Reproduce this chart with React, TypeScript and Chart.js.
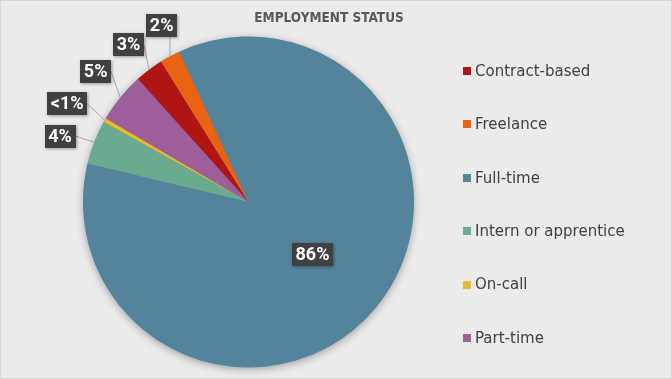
import React, { useEffect, useRef } from "react";
import { Chart, registerables } from "chart.js";

Chart.register(...registerables);

const chartTitle = "EMPLOYMENT STATUS";
const categories = [
  "Contract-based",
  "Freelance",
  "Full-time",
  "Intern or apprentice",
  "On-call",
  "Part-time",
];
const shares = [2.8, 2.0, 85.6, 4.3, 0.4, 4.9];
const sliceColors = ["#B01513", "#EA6312", "#53849B", "#6AAB90", "#E8B92A", "#9E5E9B"];
const firstSliceAngle = -42;

const W = 672;
const H = 379;
const BG = "#EBEBEB";
const LABEL_FONT = "bold 18px Roboto, 'DejaVu Sans', sans-serif";
const LEGEND_FONT = "15px 'DejaVu Sans', sans-serif";
const TITLE_FONT = "bold 13.5px 'DejaVu Sans Condensed', 'DejaVu Sans', sans-serif";

function labelText(v: number) {
  return v < 1 ? "<1%" : Math.round(v) + "%";
}

const backgroundPlugin = {
  id: "bgPlugin",
  beforeDraw(chart: any) {
    const ctx = chart.ctx;
    ctx.save();
    ctx.fillStyle = BG;
    ctx.fillRect(0, 0, chart.width, chart.height);
    ctx.strokeStyle = "#D6D6D6";
    ctx.lineWidth = 1;
    ctx.strokeRect(0.5, 0.5, chart.width - 1, chart.height - 1);
    ctx.restore();
  },
  beforeDatasetsDraw(chart: any) {
    const meta = chart.getDatasetMeta(0);
    if (!meta.data.length) return;
    const p = meta.data[0].getProps(["x", "y", "outerRadius"], true);
    const ctx = chart.ctx;
    ctx.save();
    ctx.shadowColor = "rgba(0,0,0,0.35)";
    ctx.shadowBlur = 9;
    ctx.shadowOffsetX = 0;
    ctx.shadowOffsetY = 2;
    ctx.fillStyle = sliceColors[2];
    ctx.beginPath();
    ctx.arc(p.x, p.y, p.outerRadius - 0.5, 0, Math.PI * 2);
    ctx.fill();
    ctx.restore();
  },
};

const decorPlugin = {
  id: "decorPlugin",
  afterDatasetsDraw(chart: any) {
    const ctx = chart.ctx;
    const meta = chart.getDatasetMeta(0);
    ctx.save();
    ctx.font = LABEL_FONT;
    const items = meta.data.map((arc: any, i: number) => {
      const p = arc.getProps(["x", "y", "startAngle", "endAngle", "outerRadius"], true);
      const raw = (p.startAngle + p.endAngle) / 2;
      const mid = Math.atan2(Math.sin(raw), Math.cos(raw));
      const span = p.endAngle - p.startAngle;
      const text = labelText(shares[i]);
      const w = ctx.measureText(text).width + 7;
      const h = 23;
      return { i, cx: p.x, cy: p.y, R: p.outerRadius, mid, ang: mid, span, text, w, h, inside: span > Math.PI / 3, bx: 0, by: 0 };
    });

    const gap = 18;
    const place = (it: any) => {
      if (it.inside) {
        it.bx = it.cx + it.R * 0.5 * Math.cos(it.mid);
        it.by = it.cy + it.R * 0.5 * Math.sin(it.mid);
        return;
      }
      const c = Math.cos(it.ang);
      const s = Math.sin(it.ang);
      const hw = it.w / 2;
      const hh = it.h / 2;
      const ext = Math.min(Math.abs(c) > 1e-6 ? hw / Math.abs(c) : 1e9, Math.abs(s) > 1e-6 ? hh / Math.abs(s) : 1e9);
      const d = it.R + gap + ext;
      it.bx = it.cx + d * c;
      it.by = it.cy + d * s;
    };
    items.forEach(place);
    const outs = items.filter((it: any) => !it.inside).sort((a: any, b: any) => a.mid - b.mid);
    const m = 9;
    for (let iter = 0; iter < 800; iter++) {
      let moved = false;
      for (let k = 0; k < outs.length - 1; k++) {
        const a = outs[k];
        const b = outs[k + 1];
        const ox = Math.abs(a.bx - b.bx) < (a.w + b.w) / 2 + 2;
        const oy = Math.abs(a.by - b.by) < (a.h + b.h) / 2 + m;
        if (ox && oy) {
          a.ang -= 0.003;
          b.ang += 0.003;
          place(a);
          place(b);
          moved = true;
        }
      }
      if (!moved) break;
    }

    // leader lines
    ctx.strokeStyle = "#A6A6A6";
    ctx.lineWidth = 1;
    outs.forEach((it: any) => {
      const ax = it.cx + it.R * Math.cos(it.mid);
      const ay = it.cy + it.R * Math.sin(it.mid);
      const hw = it.w / 2;
      const hh = it.h / 2;
      let ex: number, ey: number;
      if (ax >= it.bx - hw && ax <= it.bx + hw) {
        ex = ax;
        ey = ay > it.by ? it.by + hh : it.by - hh;
      } else if (ax > it.bx + hw) {
        ex = it.bx + hw;
        ey = it.by;
      } else {
        ex = it.bx - hw;
        ey = it.by;
      }
      ctx.beginPath();
      ctx.moveTo(ax, ay);
      ctx.lineTo(ex, ey);
      ctx.stroke();
    });

    // boxes
    items.forEach((it: any) => {
      ctx.save();
      ctx.shadowColor = "rgba(0,0,0,0.35)";
      ctx.shadowBlur = 3;
      ctx.shadowOffsetX = 1;
      ctx.shadowOffsetY = 1;
      ctx.fillStyle = "#404040";
      ctx.fillRect(Math.round(it.bx - it.w / 2), Math.round(it.by - it.h / 2), Math.round(it.w), it.h);
      ctx.restore();
      ctx.fillStyle = "#FFFFFF";
      ctx.textAlign = "center";
      ctx.textBaseline = "middle";
      ctx.fillText(it.text, it.bx, it.by + 1);
    });
    ctx.restore();
  },
  afterDraw(chart: any) {
    const ctx = chart.ctx;
    ctx.save();
    // title
    ctx.font = TITLE_FONT;
    ctx.fillStyle = "#595959";
    ctx.textAlign = "center";
    ctx.textBaseline = "middle";
    ctx.fillText(chartTitle, 329, 18);
    // legend
    ctx.font = LEGEND_FONT;
    ctx.textAlign = "left";
    const x0 = 463;
    const y0 = 71;
    const step = 53.4;
    categories.forEach((name, i) => {
      const y = y0 + i * step;
      ctx.fillStyle = sliceColors[i];
      ctx.fillRect(x0, Math.round(y - 4), 8, 8);
      ctx.fillStyle = "#404040";
      ctx.fillText(name, x0 + 12, y + 1);
    });
    ctx.restore();
  },
};

export default function App() {
  const ref = useRef<HTMLCanvasElement | null>(null);
  useEffect(() => {
    if (!ref.current) return;
    const chart = new Chart(ref.current, {
      type: "pie",
      data: {
        labels: categories,
        datasets: [
          {
            data: shares,
            backgroundColor: sliceColors,
            borderWidth: 0,
            hoverOffset: 0,
          },
        ],
      },
      options: {
        responsive: false,
        animation: false,
        rotation: firstSliceAngle,
        layout: { padding: { left: 83, right: 258, top: 36.5, bottom: 11.5 } },
        plugins: {
          legend: { display: false },
          title: { display: false },
          tooltip: { enabled: false },
        },
      },
      plugins: [backgroundPlugin, decorPlugin],
    } as any);
    return () => chart.destroy();
  }, []);
  return (
    <div style={{ position: "fixed", left: 0, top: 0, width: W, height: H }}>
      <canvas ref={ref} width={W} height={H} style={{ width: W, height: H, display: "block" }} />
    </div>
  );
}
